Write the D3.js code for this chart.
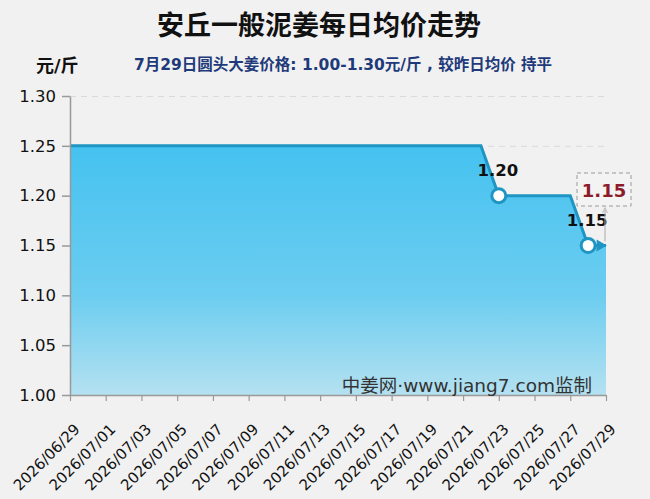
<!DOCTYPE html>
<html><head><meta charset="utf-8">
<script src="https://cdn.jsdelivr.net/npm/d3@7/dist/d3.min.js"></script>
<style>body{margin:0;background:#f1f1f1;}svg{display:block;}</style>
</head><body>
<script>
const dates = ["2026/06/29","2026/06/30","2026/07/01","2026/07/02","2026/07/03","2026/07/04","2026/07/05","2026/07/06","2026/07/07","2026/07/08","2026/07/09","2026/07/10","2026/07/11","2026/07/12","2026/07/13","2026/07/14","2026/07/15","2026/07/16","2026/07/17","2026/07/18","2026/07/19","2026/07/20","2026/07/21","2026/07/22","2026/07/23","2026/07/24","2026/07/25","2026/07/26","2026/07/27","2026/07/28","2026/07/29"];
const prices = [1.25,1.25,1.25,1.25,1.25,1.25,1.25,1.25,1.25,1.25,1.25,1.25,1.25,1.25,1.25,1.25,1.25,1.25,1.25,1.25,1.25,1.25,1.25,1.25,1.20,1.20,1.20,1.20,1.20,1.15,1.15];
const yTicks = [1.00,1.05,1.10,1.15,1.20,1.25,1.30];
const xTickLabels = dates.filter((d,i)=>i%2===0);
const labeledDates = ["2026/07/23","2026/07/28"];
const lastValue = 1.15;

const W=650,H=499;
const svg=d3.select("body").append("svg").attr("width",W).attr("height",H);
svg.append("rect").attr("width",W).attr("height",H).attr("fill","#f1f1f1");
const font="'DejaVu Sans','Noto Sans CJK SC',sans-serif";
const cjk="'Noto Sans CJK SC',sans-serif";
const x=d3.scalePoint().domain(dates).range([70,606]);
const y=d3.scaleLinear().domain([1.0,1.3]).range([395,96]);

const defs=svg.append("defs");
const g=defs.append("linearGradient").attr("id","fillg").attr("x1",0).attr("x2",0).attr("y1",0).attr("y2",1);
g.append("stop").attr("offset","0%").attr("stop-color","#45c2f0");
g.append("stop").attr("offset","60%").attr("stop-color","#6ccdf0");
g.append("stop").attr("offset","100%").attr("stop-color","#b4e1f1");
const mk=defs.append("marker").attr("id","arr").attr("viewBox","0 0 10 10").attr("refX",5).attr("refY",5)
 .attr("markerWidth",6).attr("markerHeight",6).attr("orient","auto");
mk.append("path").attr("d","M0,1 L9,5 L0,9").attr("fill","none").attr("stroke","#aaa").attr("stroke-width",1.3);

// grid
svg.append("g").selectAll("line").data(yTicks.slice(1)).join("line")
 .attr("x1",70).attr("x2",606).attr("y1",d=>y(d)+0.5).attr("y2",d=>y(d)+0.5)
 .attr("stroke","#dadada").attr("stroke-dasharray","6,5");

const data=dates.map((d,i)=>({d,v:prices[i]}));
svg.append("path").datum(data)
 .attr("d",d3.area().x(p=>x(p.d)).y0(y(1.0)).y1(p=>y(p.v)))
 .attr("fill","url(#fillg)");
svg.append("path").datum(data)
 .attr("d",d3.line().x(p=>x(p.d)).y(p=>y(p.v)))
 .attr("fill","none").attr("stroke","#1e95c2").attr("stroke-width",3);

// axes
const ya=svg.append("g").attr("transform","translate(70,0)")
 .call(d3.axisLeft(y).tickValues(yTicks).tickFormat(d3.format(".2f")).tickSize(8).tickSizeOuter(0));
ya.select(".domain").attr("stroke","#999").attr("stroke-width",1.5);
ya.selectAll(".tick line").attr("stroke","#999").attr("stroke-width",1.5);
ya.selectAll("text").attr("font-family",font).attr("font-size",16.5).attr("fill","#111").attr("dx",-3);

const xa=svg.append("g").attr("transform","translate(0,395)")
 .call(d3.axisBottom(x).tickValues(xTickLabels).tickSize(6).tickSizeOuter(0));
xa.select(".domain").attr("stroke","#999").attr("stroke-width",1.5);
xa.selectAll(".tick line").attr("stroke","#999").attr("stroke-width",1.2);
xa.selectAll("text").attr("font-family",font).attr("font-size",15).attr("fill","#111")
 .attr("text-anchor","end").attr("dy","0").attr("dx","0")
 .attr("transform","translate(4,29) rotate(-45)");

// markers
const lab=data.filter(p=>labeledDates.includes(p.d));
svg.append("g").selectAll("circle").data(lab).join("circle")
 .attr("cx",p=>x(p.d)).attr("cy",p=>y(p.v)).attr("r",7)
 .attr("fill","#fff").attr("stroke","#1e95c2").attr("stroke-width",3);
svg.append("g").selectAll("text").data(lab).join("text")
 .attr("x",p=>x(p.d)-1).attr("y",p=>y(p.v)-20).attr("text-anchor","middle")
 .attr("font-family",font).attr("font-size",16.5).attr("font-weight","bold").attr("fill","#111")
 .text(p=>p.v.toFixed(2));
const last=data[data.length-1];
svg.append("path").attr("d",d3.symbol().type(d3.symbolTriangle).size(60)())
 .attr("transform",`translate(${x(last.d)-6},${y(last.v)}) rotate(90)`).attr("fill","#1e95c2");

// callout
svg.append("line").attr("x1",x(last.d)-1).attr("x2",x(last.d)-1).attr("y1",y(last.v)-4).attr("y2",210)
 .attr("stroke","#aaa").attr("stroke-width",1).attr("marker-end","url(#arr)");
svg.append("rect").attr("x",577).attr("y",173).attr("width",54).attr("height",33)
 .attr("fill","#f3f3f3").attr("stroke","#999").attr("stroke-dasharray","4,3");
svg.append("text").attr("x",604).attr("y",197).attr("text-anchor","middle")
 .attr("font-family",font).attr("font-size",18).attr("font-weight","bold").attr("fill","#8c1c2c")
 .text(lastValue.toFixed(2));

// watermark
svg.append("text").attr("x",592).attr("y",392).attr("text-anchor","end")
 .attr("font-family",font).attr("font-size",18.5).attr("fill","#333")
 .text("中姜网·www.jiang7.com监制");

// titles
svg.append("text").attr("x",319).attr("y",35).attr("text-anchor","middle")
 .attr("font-family",cjk).attr("font-size",27).attr("font-weight","bold").attr("fill","#111")
 .text("安丘一般泥姜每日均价走势");
svg.append("text").attr("x",36).attr("y",72)
 .attr("font-family",font).attr("font-size",18).attr("font-weight","bold").attr("fill","#111")
 .text("元/斤");
svg.append("text").attr("x",134).attr("y",70)
 .attr("font-family",font).attr("font-size",15.5).attr("font-weight","bold").attr("fill","#1e3a7a")
 .text("7月29日圆头大姜价格: 1.00-1.30元/斤 , 较昨日均价 持平");
</script>
</body></html>
